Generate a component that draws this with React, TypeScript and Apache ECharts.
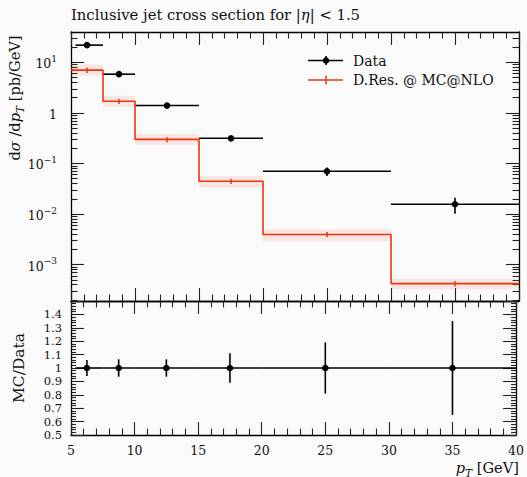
import React, { useEffect, useRef } from "react";
import * as echarts from "echarts";

// ---- data ----
const binLow = [5, 7.5, 10, 15, 20, 30];
const binHigh = [7.5, 10, 15, 20, 30, 40];
const binCenter = [6.25, 8.75, 12.5, 17.5, 25, 35];
const dataXLow = [5.35, 7.5, 10, 15, 20, 30];
const dataY = [22.0, 5.85, 1.4, 0.315, 0.07, 0.0156];
const dataErrRel = [0.06, 0.065, 0.065, 0.11, 0.19, 0.35];
const mcY = [7.05, 1.7, 0.3, 0.0444, 0.00393, 0.00042];
const mcErrRel = [0.12, 0.12, 0.12, 0.12, 0.12, 0.12];
const mcBandUp = [1.3, 1.28, 1.28, 1.28, 1.27, 1.26];
const mcBandDown = [0.775, 0.77, 0.77, 0.75, 0.74, 0.76];
const yMajorTicks = [1e-3, 1e-2, 1e-1, 1, 10];
const yMinorTicks: number[] = [];
for (let e = -4; e <= 1; e++) {
  for (let k = 2; k <= 9; k++) {
    const v = k * Math.pow(10, e);
    if (v > 1.9e-4 && v < 40) yMinorTicks.push(v);
  }
}

const FONT = "DejaVu Serif";
const MC_COLOR = "#ee3311";

export default function App() {
  const ref = useRef<HTMLDivElement>(null);
  useEffect(() => {
    document.body.style.margin = "0";
    document.body.style.background = "#fafafa";
    const chart = echarts.init(ref.current!, undefined, { renderer: "svg" });

    const tickStyle = { color: "#222", width: 1.1 };
    const lineStyle = { color: "#000", width: 1.3 };

    const mkX = (grid: number, pos: "top" | "bottom", labels: boolean) => ({
      type: "value",
      gridIndex: grid,
      position: pos,
      min: 5,
      max: 40,
      interval: 5,
      axisLine: { show: true, lineStyle, onZero: false },
      axisTick: { show: true, inside: true, length: 13, lineStyle: tickStyle },
      minorTick: { show: true, splitNumber: 5, length: 6.5, lineStyle: tickStyle },
      axisLabel: {
        show: labels,
        margin: 9,
        fontFamily: FONT,
        fontSize: 12.5,
        color: "#111",
      },
      splitLine: { show: false },
      minorSplitLine: { show: false },
    });

    const mkLogY = (pos: "left" | "right", major: boolean, labels: boolean) => ({
      type: "log",
      logBase: 10,
      gridIndex: 0,
      position: pos,
      min: 1.9e-4,
      max: 40,
      axisLine: { show: major, lineStyle, onZero: false },
      axisTick: {
        show: true,
        inside: true,
        length: major ? 13 : 6.5,
        lineStyle: tickStyle,
        customValues: major ? yMajorTicks : yMinorTicks,
      },
      axisLabel: labels
        ? {
            show: true,
            margin: 14,
            customValues: yMajorTicks,
            formatter: (v: number) => {
              const e = Math.round(Math.log10(v));
              if (e === 0) return "{n|1}";
              return "{n|10}{s|" + (e < 0 ? "\u2212" : "") + Math.abs(e) + "}";
            },
            rich: {
              n: { fontFamily: FONT, fontSize: 12.5, color: "#111", lineHeight: 16, verticalAlign: "bottom" },
              s: { fontFamily: FONT, fontSize: 9, color: "#111", lineHeight: 10, verticalAlign: "top" },
            },
          }
        : { show: false },
      splitLine: { show: false },
    });

    const mkRatioY = (pos: "left" | "right", labels: boolean) => ({
      type: "value",
      gridIndex: 1,
      position: pos,
      min: 0.5,
      max: 1.5,
      interval: 0.1,
      axisLine: { show: true, lineStyle, onZero: false },
      axisTick: { show: true, inside: true, length: 13, lineStyle: tickStyle },
      minorTick: { show: true, splitNumber: 5, length: 5, lineStyle: tickStyle },
      axisLabel: {
        show: labels,
        margin: 9,
        fontFamily: FONT,
        fontSize: 11.5,
        lineHeight: 12,
        color: "#111",
        formatter: (v: number) => {
          if (v > 1.45) return "";
          if (Math.abs(v - 1) < 1e-6) return "1";
          return v.toFixed(1);
        },
      },
      splitLine: { show: false },
      minorSplitLine: { show: false },
    });

    const dataMain = dataY.map((y, i) => [
      binCenter[i], y, dataXLow[i], binHigh[i], y * (1 - dataErrRel[i]), y * (1 + dataErrRel[i]),
    ]);
    const dataRatio = dataY.map((y, i) => [
      binCenter[i], 1, dataXLow[i], binHigh[i], 1 - dataErrRel[i], 1 + dataErrRel[i],
    ]);
    const bandData = mcY.map((y, i) => [binLow[i], binHigh[i], y * mcBandDown[i], y * mcBandUp[i]]);
    const mcErrData = mcY.map((y, i) => [binCenter[i], y, y * (1 - mcErrRel[i]), y * (1 + mcErrRel[i])]);
    const stepData = binLow.map((x, i) => [x, mcY[i]]).concat([[binHigh[binHigh.length - 1], mcY[mcY.length - 1]]]);

    const renderPoints = (params: any, api: any) => {
      const x = api.value(0), y = api.value(1);
      const c = api.coord([x, y]);
      const l = api.coord([api.value(2), y]);
      const h = api.coord([api.value(3), y]);
      const lo = api.coord([x, api.value(4)]);
      const hi = api.coord([x, api.value(5)]);
      return {
        type: "group",
        children: [
          { type: "line", shape: { x1: l[0], y1: l[1], x2: h[0], y2: h[1] }, style: { stroke: "#000", lineWidth: 1.6 } },
          { type: "line", shape: { x1: lo[0], y1: lo[1], x2: hi[0], y2: hi[1] }, style: { stroke: "#000", lineWidth: 1.6 } },
          { type: "circle", shape: { cx: c[0], cy: c[1], r: 3.3 }, style: { fill: "#000" } },
        ],
      };
    };

    const richLabel = (size: number) => ({
      n: { fontFamily: FONT, fontSize: size, fill: "#111", lineHeight: 18, verticalAlign: "top" },
      i: { fontFamily: FONT, fontSize: size, fontStyle: "italic", fill: "#111", lineHeight: 18, verticalAlign: "top" },
      s: { fontFamily: FONT, fontSize: size - 4, fontStyle: "italic", fill: "#111", lineHeight: 12, verticalAlign: "bottom" },
    });

    const option: any = {
      animation: false,
      backgroundColor: "#fafafa",
      grid: [
        { left: 71, top: 32, width: 448, height: 269 },
        { left: 71, top: 301, width: 448, height: 134 },
      ],
      xAxis: [mkX(0, "bottom", false), mkX(0, "top", false), mkX(1, "bottom", true), mkX(1, "top", false)],
      yAxis: [
        mkLogY("left", true, true),
        mkLogY("left", false, false),
        mkLogY("right", true, false),
        mkLogY("right", false, false),
        mkRatioY("left", true),
        mkRatioY("right", false),
      ],
      series: [
        {
          type: "custom",
          xAxisIndex: 0,
          yAxisIndex: 0,
          clip: true,
          data: bandData,
          encode: { x: [0, 1], y: [2, 3] },
          renderItem: (params: any, api: any) => {
            const a = api.coord([api.value(0), api.value(3)]);
            const b = api.coord([api.value(1), api.value(2)]);
            return {
              type: "rect",
              shape: { x: a[0], y: a[1], width: b[0] - a[0], height: b[1] - a[1] },
              style: { fill: "rgba(240,70,50,0.11)" },
            };
          },
        },
        {
          type: "line",
          xAxisIndex: 0,
          yAxisIndex: 0,
          step: "end",
          data: stepData,
          showSymbol: false,
          clip: true,
          lineStyle: { color: MC_COLOR, width: 1.6 },
        },
        {
          type: "custom",
          xAxisIndex: 0,
          yAxisIndex: 0,
          clip: true,
          data: mcErrData,
          encode: { x: 0, y: [2, 3] },
          renderItem: (params: any, api: any) => {
            const lo = api.coord([api.value(0), api.value(2)]);
            const hi = api.coord([api.value(0), api.value(3)]);
            return {
              type: "line",
              shape: { x1: lo[0], y1: lo[1], x2: hi[0], y2: hi[1] },
              style: { stroke: MC_COLOR, lineWidth: 1.5 },
            };
          },
        },
        {
          type: "custom",
          xAxisIndex: 0,
          yAxisIndex: 0,
          clip: true,
          data: dataMain,
          encode: { x: [0, 2, 3], y: [1, 4, 5] },
          renderItem: renderPoints,
        },
        {
          type: "custom",
          xAxisIndex: 2,
          yAxisIndex: 4,
          clip: true,
          data: dataRatio,
          encode: { x: [0, 2, 3], y: [1, 4, 5] },
          renderItem: renderPoints,
        },
      ],
      graphic: [
        {
          type: "text",
          x: 71,
          y: 14,
          style: {
            text: "{n|Inclusive jet cross section for |}{i|\u03b7}{n|| < 1.5}",
            verticalAlign: "middle",
            align: "left",
            rich: {
              n: { fontFamily: FONT, fontSize: 14.8, fill: "#111" },
              i: { fontFamily: FONT, fontSize: 14.8, fontStyle: "italic", fill: "#111" },
            },
          },
        },
        {
          type: "text",
          x: 16,
          y: 98,
          rotation: Math.PI / 2,
          style: {
            text: "{n|d}{i|\u03c3}{n| /d}{i|p}{s|T}{n| [pb/GeV]}",
            align: "center",
            verticalAlign: "middle",
            rich: richLabel(14.6),
          },
        },
        {
          type: "text",
          x: 19,
          y: 368,
          rotation: Math.PI / 2,
          style: {
            text: "MC/Data",
            align: "center",
            verticalAlign: "middle",
            fontFamily: FONT,
            fontSize: 15.5,
            fill: "#111",
          },
        },
        {
          type: "text",
          x: 519,
          y: 469,
          style: {
            text: "{i|p}{s|T}{n| [GeV]}",
            align: "right",
            verticalAlign: "middle",
            rich: richLabel(14.6),
          },
        },
        // legend
        { type: "line", shape: { x1: 308, y1: 60.5, x2: 343, y2: 60.5 }, style: { stroke: "#000", lineWidth: 1.6 } },
        { type: "line", shape: { x1: 326, y1: 56, x2: 326, y2: 65 }, style: { stroke: "#000", lineWidth: 1.6 } },
        { type: "circle", shape: { cx: 326, cy: 60.5, r: 3.3 }, style: { fill: "#000" } },
        {
          type: "text",
          x: 353,
          y: 60.5,
          style: { text: "Data", fontFamily: FONT, fontSize: 14, fill: "#111", verticalAlign: "middle", align: "left" },
        },
        { type: "line", shape: { x1: 308, y1: 80, x2: 343, y2: 80 }, style: { stroke: MC_COLOR, lineWidth: 1.6 } },
        { type: "line", shape: { x1: 326, y1: 75.5, x2: 326, y2: 84.5 }, style: { stroke: MC_COLOR, lineWidth: 1.5 } },
        {
          type: "text",
          x: 353,
          y: 80,
          style: { text: "D.Res. @ MC@NLO", fontFamily: FONT, fontSize: 14, fill: "#111", verticalAlign: "middle", align: "left" },
        },
      ],
    };
    chart.setOption(option);
    return () => chart.dispose();
  }, []);
  return (
    <div
      ref={ref}
      style={{ position: "fixed", left: 0, top: 0, width: 527, height: 477, background: "#fafafa" }}
    />
  );
}
